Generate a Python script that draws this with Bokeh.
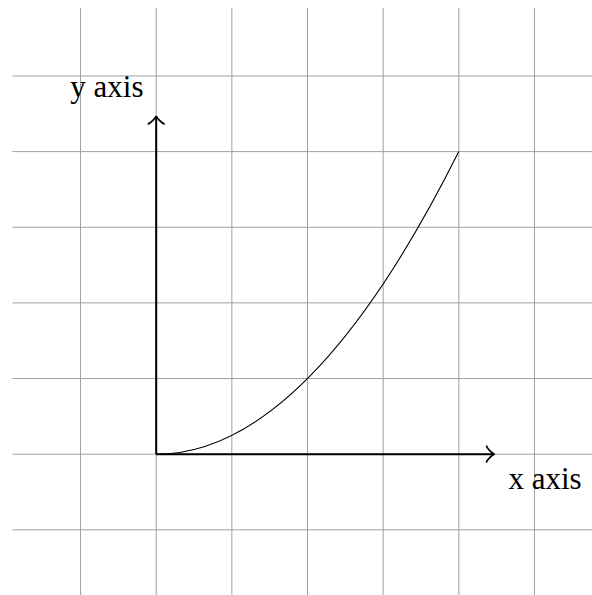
from bokeh.plotting import figure
from bokeh.models import Range1d
from bokeh.embed import file_html
from bokeh.resources import INLINE
from bokeh.core.properties import value

# data
grid_ticks = [-1, 0, 1, 2, 3, 4, 5]
grid_extent = [-1.9, 5.9]
curve_start = [0.0, 0.0]
curve_end = [4.0, 4.0]
curve_ctrl = [2.0, 0.0]       # quadratic control point (parabola y = x^2/4)
axis_len = 4.47
labels = ["x axis", "y axis"]

W, H = 592, 595
S = 75.65  # px per unit
ox, oy = 155.7, 453.7  # origin in frame px
x0 = -ox / S
x1 = x0 + W / S
y1 = oy / S
y0 = y1 - H / S

p = figure(width=W, height=H, x_range=Range1d(x0, x1), y_range=Range1d(y0, y1),
           output_backend="svg", toolbar_location=None, min_border=0)
p.axis.visible = False
p.grid.visible = False
p.outline_line_color = None
p.background_fill_color = "white"
p.border_fill_color = "white"

gcol = "#a0a0a0"
lo, hi = grid_extent
p.segment(x0=grid_ticks, y0=[lo] * len(grid_ticks), x1=grid_ticks, y1=[hi] * len(grid_ticks),
          line_color=gcol, line_width=1)
p.segment(x0=[lo] * len(grid_ticks), y0=grid_ticks, x1=[hi] * len(grid_ticks), y1=grid_ticks,
          line_color=gcol, line_width=1)

# axes
p.segment(x0=[0, 0], y0=[0, 0], x1=[axis_len, 0], y1=[0, axis_len], line_color="black", line_width=2)

# arrow heads (TikZ "to" style)
k = 2.125 / S
L = axis_len
for sgn in (1, -1):
    p.bezier(x0=[L - 3.75 * k], y0=[sgn * 4 * k], x1=[L], y1=[0],
             cx0=[L - 3.5 * k], cy0=[sgn * 2.5 * k], cx1=[L - 0.75 * k], cy1=[sgn * 0.25 * k],
             line_color="black", line_width=1.8)
    p.bezier(y0=[L - 3.75 * k], x0=[sgn * 4 * k], y1=[L], x1=[0],
             cy0=[L - 3.5 * k], cx0=[sgn * 2.5 * k], cy1=[L - 0.75 * k], cx1=[sgn * 0.25 * k],
             line_color="black", line_width=1.8)

# curve
p.quadratic(x0=[curve_start[0]], y0=[curve_start[1]], x1=[curve_end[0]], y1=[curve_end[1]],
            cx=[curve_ctrl[0]], cy=[curve_ctrl[1]], line_color="black", line_width=1.1)

font = value("Liberation Serif")
p.text(x=[(508 - 155.7) / S], y=[(453.7 - 478) / S], text=[labels[0]], text_font=font,
       text_font_size="31px", text_align="left", text_baseline="alphabetic", text_color="black")
p.text(x=[(143 - 155.7) / S], y=[(453.7 - 86) / S], text=[labels[1]], text_font=font,
       text_font_size="31px", text_align="right", text_baseline="alphabetic", text_color="black")

open("out.html", "w").write(file_html(p, INLINE))
